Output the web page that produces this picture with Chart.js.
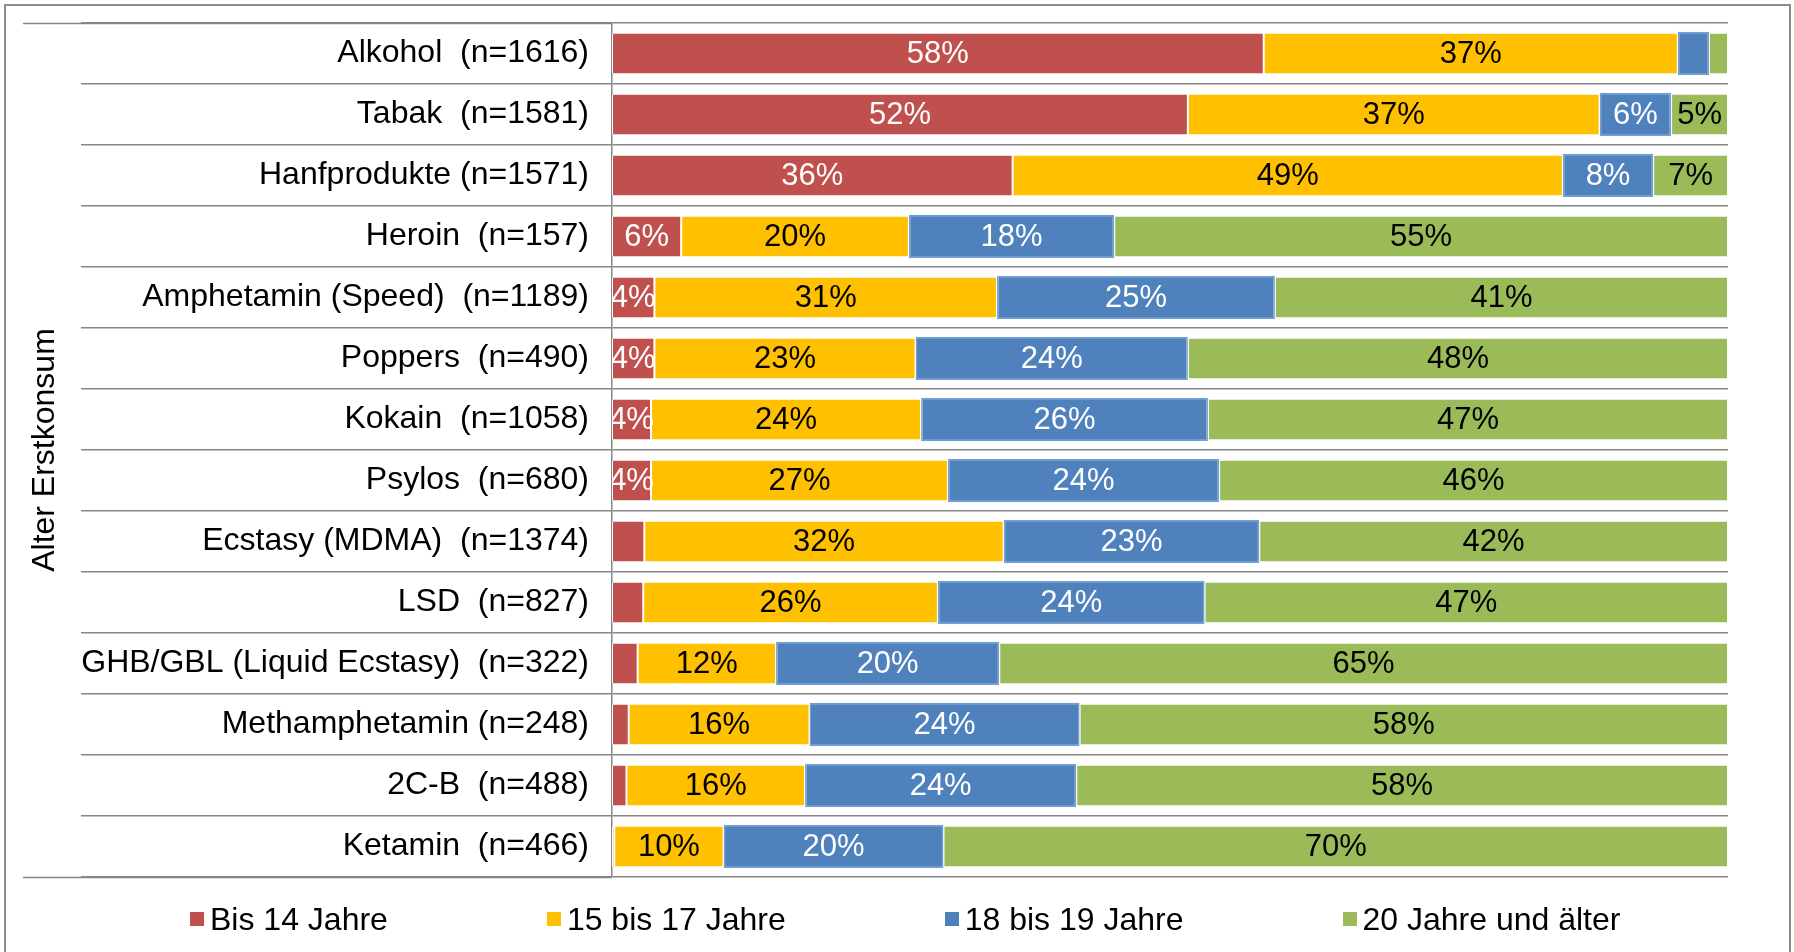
<!DOCTYPE html>
<html lang="de">
<head>
<meta charset="utf-8">
<title>Alter Erstkonsum</title>
<script src="https://cdn.jsdelivr.net/npm/chart.js@4.4.1/dist/chart.umd.min.js"></script>
<style>
    html, body { margin: 0; padding: 0; background: #fff; overflow: hidden; }
    #wrap { position: relative; width: 1794px; height: 952px; }
    #chart { display: block; }
    #frame {
        position: absolute; left: 4px; top: 4px; width: 1787px; height: 1000px;
        border: 2px solid #8c8c8c; box-sizing: border-box; pointer-events: none;
    }
    #legend {
        position: absolute; left: 190px; top: 903px;
        display: flex; gap: 159px;
        font: 32px 'Liberation Sans', Arial, sans-serif; line-height: 32px; color: #000;
        white-space: nowrap;
    }
    .item { display: flex; align-items: center; }
    .box { width: 14px; height: 14px; margin-right: 6px; }
</style>
</head>
<body>
<div id="wrap">
    <canvas id="chart" width="1794" height="952"></canvas>
    <div id="legend"></div>
    <div id="frame"></div>
</div>
<script>
const categories = [
    'Alkohol  (n=1616)',
    'Tabak  (n=1581)',
    'Hanfprodukte (n=1571)',
    'Heroin  (n=157)',
    'Amphetamin (Speed)  (n=1189)',
    'Poppers  (n=490)',
    'Kokain  (n=1058)',
    'Psylos  (n=680)',
    'Ecstasy (MDMA)  (n=1374)',
    'LSD  (n=827)',
    'GHB/GBL (Liquid Ecstasy)  (n=322)',
    'Methamphetamin (n=248)',
    '2C-B  (n=488)',
    'Ketamin  (n=466)'
]
const seriesNames = ['Bis 14 Jahre', '15 bis 17 Jahre', '18 bis 19 Jahre', '20 Jahre und älter']

// percentages per age group
const bis14 = [58.4, 51.6, 35.9, 6.2, 3.8, 3.8, 3.5, 3.5, 2.9, 2.8, 2.3, 1.5, 1.3, 0.2]
const bis17 = [37.1, 36.9, 49.3, 20.4, 30.7, 23.4, 24.2, 26.6, 32.2, 26.4, 12.4, 16.2, 16.0, 9.8]
const bis19 = [2.8, 6.4, 8.1, 18.4, 24.9, 24.4, 25.7, 24.3, 22.9, 23.9, 20.0, 24.2, 24.3, 19.7]
const ab20 = [1.7, 5.1, 6.7, 55.0, 40.6, 48.4, 46.6, 45.6, 42.0, 46.9, 65.3, 58.1, 58.4, 70.3]

const seriesColors = ['#C0504D', '#FFC000', '#4F81BD', '#9BBB59']
const labelColors = ['#ffffff', '#000000', '#ffffff', '#000000']
const axisGray = '#868686'
const fontFamily = "'Liberation Sans', Arial, sans-serif"

Chart.defaults.font.family = fontFamily

const whiteSeparator = {
    borderColor: '#ffffff',
    borderWidth: { top: 0, bottom: 0, left: 1, right: 1 },
    borderSkipped: false,
    barPercentage: 0.656,
    categoryPercentage: 1
}

// only segments that round to 4% or more carry a label
const barLabels = {
    id: 'barLabels',
    afterDatasetsDraw(chart) {
        const { ctx, chartArea } = chart
        ctx.save()
        ctx.beginPath()
        ctx.rect(chartArea.left, chartArea.top, chartArea.width, chartArea.height)
        ctx.clip()
        ctx.font = `31px ${fontFamily}`
        ctx.textAlign = 'center'
        ctx.textBaseline = 'middle'
        chart.data.datasets.forEach((ds, i) => {
            chart.getDatasetMeta(i).data.forEach((bar, j) => {
                const pct = Math.round(ds.data[j])
                if (pct < 4) return
                const { x, y } = bar.getCenterPoint()
                ctx.fillStyle = labelColors[i]
                ctx.fillText(pct + '%', x, y + 1)
            })
        })
        ctx.restore()
    }
}

const chart = new Chart(document.querySelector('#chart'), {
    type: 'bar',
    data: {
        labels: categories,
        datasets: [
            { label: seriesNames[0], data: bis14, backgroundColor: seriesColors[0], ...whiteSeparator },
            { label: seriesNames[1], data: bis17, backgroundColor: seriesColors[1], ...whiteSeparator },
            {
                label: seriesNames[2], data: bis19, backgroundColor: seriesColors[2],
                borderColor: '#72a0d6', borderWidth: 1.5, borderSkipped: false,
                barPercentage: 0.715, categoryPercentage: 1
            },
            { label: seriesNames[3], data: ab20, backgroundColor: seriesColors[3], ...whiteSeparator }
        ]
    },
    options: {
        indexAxis: 'y',
        responsive: false,
        devicePixelRatio: 1,
        animation: false,
        events: [],
        layout: { padding: { left: 0, top: 23, right: 66, bottom: 75 } },
        plugins: {
            legend: { display: false },
            tooltip: { enabled: false }
        },
        scales: {
            x: {
                stacked: true,
                min: 0,
                max: 100,
                display: false
            },
            y: {
                stacked: true,
                weight: 1,
                offset: true,
                grid: {
                    offset: true,
                    color: axisGray,
                    lineWidth: 1.5,
                    tickColor: axisGray,
                    tickWidth: 1.5,
                    tickLength: 531
                },
                border: { display: true, color: axisGray, width: 1.5 },
                ticks: {
                    color: '#000',
                    font: { size: 32 },
                    padding: -508,
                    autoSkip: false
                },
                title: {
                    display: true,
                    text: 'Alter Erstkonsum',
                    color: '#000',
                    font: { size: 32 },
                    padding: { top: 26, bottom: 0 }
                },
                afterFit(scale) { scale.width = 612 }
            },
            // invisible axis that only stretches the outer top and bottom lines to the left
            y2: {
                type: 'category',
                axis: 'y',
                position: 'left',
                weight: 0,
                offset: true,
                grid: {
                    offset: true,
                    drawOnChartArea: false,
                    tickLength: 589,
                    tickWidth: 1.5,
                    tickColor: (c) => (c.type === 'tick' && c.index > 0) ? 'transparent' : axisGray
                },
                border: { display: false },
                ticks: { display: false },
                afterFit(scale) { scale.width = 0 }
            }
        }
    },
    plugins: [barLabels]
})

document.querySelector('#legend').innerHTML = chart.data.datasets.map(ds =>
    `<span class="item"><span class="box" style="background:${ds.backgroundColor}"></span>${ds.label}</span>`
).join('')
</script>
</body>
</html>
